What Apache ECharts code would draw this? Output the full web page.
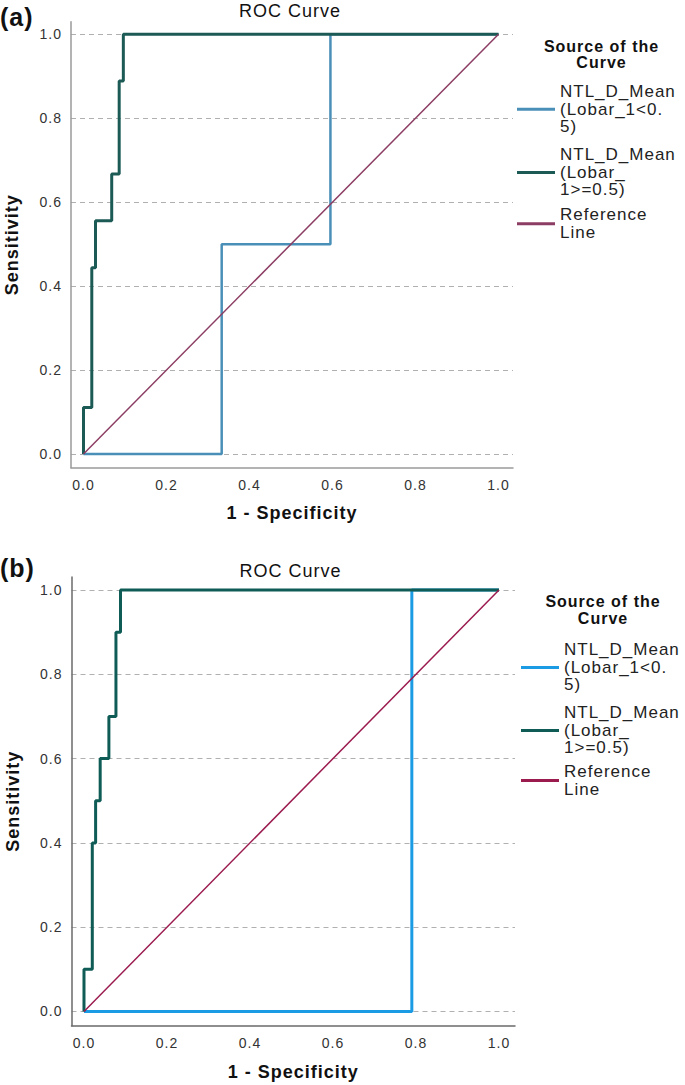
<!DOCTYPE html>
<html><head><meta charset="utf-8">
<script src="https://cdn.jsdelivr.net/npm/echarts@6/dist/echarts.min.js"></script>
<style>
html,body{margin:0;padding:0;background:#fff;}
#chart{width:685px;height:1085px;}
#chart text{letter-spacing:1px;}
</style></head><body><div id="chart"></div>
<script>
// ---- data ----
const tickValues = [0, 0.2, 0.4, 0.6, 0.8, 1.0];
const legendLabels = ['NTL_D_Mean\n(Lobar_1<0.\n5)', 'NTL_D_Mean\n(Lobar_\n1>=0.5)', 'Reference\nLine'];
// Panel (a)
const aLowFpr  = [0, 0.333, 0.595, 1];
const aLowTpr  = [0, 0.5, 1, 1];
const aHighFpr = [0, 0, 0.02, 0.029, 0.068, 0.086, 0.096, 1];
const aHighTpr = [0, 0.111, 0.444, 0.556, 0.667, 0.889, 1, 1];
// Panel (b)
const bLowFpr  = [0, 0.79, 1];
const bLowTpr  = [0, 1, 1];
const bHighFpr = [0, 0, 0.02, 0.028, 0.039, 0.06, 0.077, 0.088, 1];
const bHighTpr = [0, 0.1, 0.4, 0.5, 0.6, 0.7, 0.9, 1, 1];
// Reference line
const refFpr = [0, 1];
const refTpr = [0, 1];

const FF = '"Liberation Sans", Arial, sans-serif';
const zip = (xs, ys) => xs.map((x, i) => [x, ys[i]]);
const nameMap = {a1: legendLabels[0], a2: legendLabels[1], a3: legendLabels[2],
                 b1: legendLabels[0], b2: legendLabels[1], b3: legendLabels[2]};

function xAxisCfg(gi, min, max, color, nameGap) {
  return {
    type: 'value', gridIndex: gi, min: min, max: max,
    name: '1 - Specificity', nameLocation: 'middle', nameGap: nameGap,
    nameTextStyle: {fontSize: 18, fontWeight: 'bold', color: '#111', fontFamily: FF},
    axisLine: {show: true, onZero: false, lineStyle: {color: color, width: 1.5}},
    axisTick: {show: false, customValues: tickValues},
    axisLabel: {customValues: tickValues, formatter: v => v.toFixed(1), fontSize: 14, color: '#333', margin: 10, fontFamily: FF},
    splitLine: {show: false}
  };
}
function yAxisCfg(gi, min, max, color) {
  return {
    type: 'value', gridIndex: gi, min: min, max: max,
    name: 'Sensitivity', nameLocation: 'middle', nameGap: 50,
    nameTextStyle: {fontSize: 18, fontWeight: 'bold', color: '#111', fontFamily: FF},
    axisLine: {show: true, onZero: false, lineStyle: {color: color, width: 1.5}},
    axisTick: {show: false, customValues: tickValues},
    axisLabel: {customValues: tickValues, formatter: v => v.toFixed(1), fontSize: 14, color: '#333', margin: 9, fontFamily: FF},
    splitLine: {show: true, lineStyle: {color: '#b0b0b0', width: 1, type: [5, 4]}}
  };
}
function lineSeries(name, gi, data, color, width, step) {
  return {
    type: 'line', name: name, xAxisIndex: gi, yAxisIndex: gi, data: data,
    step: step, showSymbol: false, symbol: 'none', silent: true, animation: false,
    color: color, itemStyle: {color: color},
    lineStyle: {color: color, width: width}
  };
}
function legendCfg(name, left, top) {
  return {
    data: [name], left: left, top: top, orient: 'vertical', padding: 0, itemGap: 0,
    itemWidth: 38, itemHeight: 3, icon: 'rect', selectedMode: false,
    formatter: n => nameMap[n],
    textStyle: {fontSize: 17, lineHeight: 17.5, color: '#222', fontFamily: FF}
  };
}
function textEl(text, x, y, size, weight, align, lh) {
  return {type: 'text', x: x, y: y, silent: true,
    style: {text: text, fontSize: size, fontWeight: weight, fontFamily: FF, fill: '#111',
            align: align, verticalAlign: 'middle', lineHeight: lh || size}};
}

const colA = {low: '#4a8fb8', high: '#1c5a55', ref: '#8c3d63'};
const colB = {low: '#1b9be3', high: '#0f5c57', ref: '#9b1b4f'};

const option = {
  backgroundColor: '#fff',
  animation: false,
  grid: [
    {left: 71, top: 21.7, width: 442, height: 446, outerBoundsMode: 'none', containLabel: false},
    {left: 71.5, top: 577, width: 443.5, height: 448.7, outerBoundsMode: 'none', containLabel: false}
  ],
  xAxis: [
    xAxisCfg(0, -0.0301, 1.0349, '#9a9a9a', 36),
    xAxisCfg(1, -0.0301, 1.0386, '#6a6a6a', 37)
  ],
  yAxis: [
    yAxisCfg(0, -0.0326, 1.0300, '#9a9a9a'),
    yAxisCfg(1, -0.0337, 1.0308, '#6a6a6a')
  ],
  legend: [
    legendCfg('a1', 517, 83), legendCfg('a2', 517, 146.2), legendCfg('a3', 517, 206.2),
    legendCfg('b1', 521, 641.2), legendCfg('b2', 521, 704.2), legendCfg('b3', 521, 763)
  ],
  graphic: [
    textEl('(a)', 0, 17, 25, 'bold', 'left'),
    textEl('ROC Curve', 290, 11, 18, 'normal', 'center'),
    textEl('Source of the\nCurve', 601.5, 54.5, 16, 'bold', 'center', 16),
    textEl('(b)', 0, 568, 25, 'bold', 'left'),
    textEl('ROC Curve', 290.5, 571, 18, 'normal', 'center'),
    textEl('Source of the\nCurve', 603, 610, 16, 'bold', 'center', 16.5)
  ],
  series: [
    lineSeries('a1', 0, zip(aLowFpr, aLowTpr), colA.low, 2.5, 'end'),
    lineSeries('a2', 0, zip(aHighFpr, aHighTpr), colA.high, 3, 'end'),
    lineSeries('a3', 0, zip(refFpr, refTpr), colA.ref, 1.5, false),
    lineSeries('b1', 1, zip(bLowFpr, bLowTpr), colB.low, 3, 'end'),
    lineSeries('b2', 1, zip(bHighFpr, bHighTpr), colB.high, 3, 'end'),
    lineSeries('b3', 1, zip(refFpr, refTpr), colB.ref, 1.5, false)
  ]
};
const chart = echarts.init(document.getElementById('chart'), null, {renderer: 'svg', width: 685, height: 1085});
chart.setOption(option);
</script></body></html>
